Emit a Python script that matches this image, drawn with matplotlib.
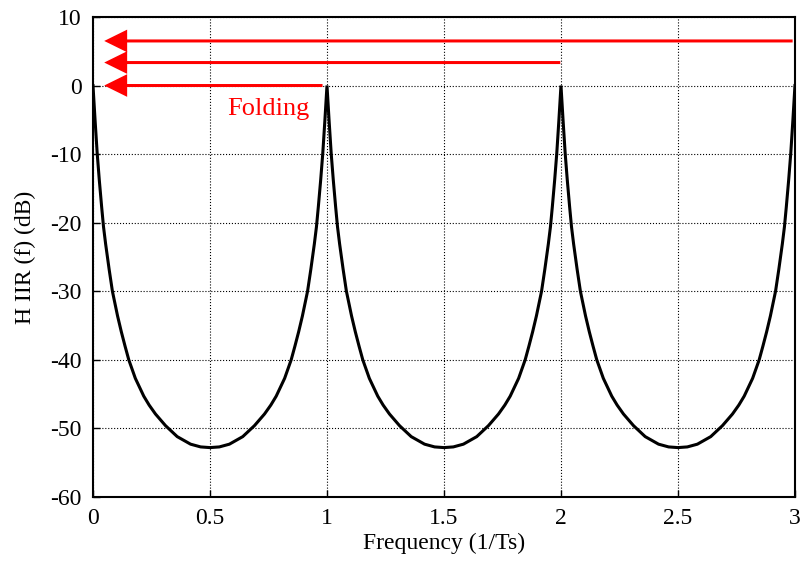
import numpy as np
import matplotlib
matplotlib.use('Agg')
import matplotlib.pyplot as plt

plt.rcParams['font.family'] = ['Liberation Serif', 'DejaVu Serif']
plt.rcParams['axes.unicode_minus'] = False

# one period of the response (peak to peak)
period_f = [0.000, 0.009, 0.018, 0.027, 0.037, 0.045, 0.054, 0.069, 0.083, 0.105,
            0.121, 0.137, 0.153, 0.181, 0.217, 0.240, 0.267, 0.310, 0.360, 0.417,
            0.460, 0.500,
            0.540, 0.583, 0.640, 0.690, 0.733, 0.760, 0.783, 0.819, 0.847, 0.863,
            0.879, 0.895, 0.917, 0.931, 0.946, 0.955, 0.963, 0.973, 0.982, 0.991,
            1.000]
period_db = [0.0, -5.1, -9.9, -13.8, -17.7, -20.6, -23.1, -26.8, -30.0, -33.6,
             -35.9, -38.0, -40.0, -42.7, -45.3, -46.6, -47.9, -49.6, -51.2, -52.3,
             -52.7, -52.8,
             -52.7, -52.3, -51.2, -49.6, -47.9, -46.6, -45.3, -42.7, -40.0, -38.0,
             -35.9, -33.6, -30.0, -26.8, -23.1, -20.6, -17.7, -13.8, -9.9, -5.1,
             0.0]
n_periods = 3

# folding arrows: (start f, level dB)
arrow_start = [2.99, 1.997, 0.981]
arrow_level = [6.5, 3.35, 0.0]
arrow_tip = 0.048

xticks = [0, 0.5, 1, 1.5, 2, 2.5, 3]
xticklabels = ['0', '0.5', '1', '1.5', '2', '2.5', '3']
yticks = [-60, -50, -40, -30, -20, -10, 0, 10]

freq = np.concatenate([np.array(period_f) + k for k in range(n_periods)])
resp = np.concatenate([np.array(period_db) for k in range(n_periods)])

fig = plt.figure(figsize=(8.03, 5.65), dpi=100)
ax = fig.add_axes([0.1158, 0.1204, 0.8742, 0.8496])

ax.plot(freq, resp, color='black', lw=2.2, solid_joinstyle='miter')

for x0, lvl in zip(arrow_start, arrow_level):
    ax.arrow(x0, lvl, arrow_tip - x0, 0, width=0.44, head_width=3.3,
             head_length=0.098, length_includes_head=True,
             color='red', ec='none', zorder=5)

ax.text(0.573, -4.35, 'Folding', color='red', fontsize=19, va='baseline', ha='left')

ax.set_xlim(0, 3)
ax.set_ylim(-60, 10)
ax.set_xticks(xticks)
ax.set_xticklabels(xticklabels)
ax.set_yticks(yticks)
ax.tick_params(direction='in', length=5, width=1, labelsize=17, pad=8)
ax.grid(True, color='black', ls=':', lw=0.8)
for s in ax.spines.values():
    s.set_linewidth(1.5)

ax.set_xlabel('Frequency (1/Ts)', fontsize=17, labelpad=3)
ax.set_ylabel('H IIR (f) (dB)', fontsize=17, labelpad=10)

fig.savefig('out.png', dpi=100)
